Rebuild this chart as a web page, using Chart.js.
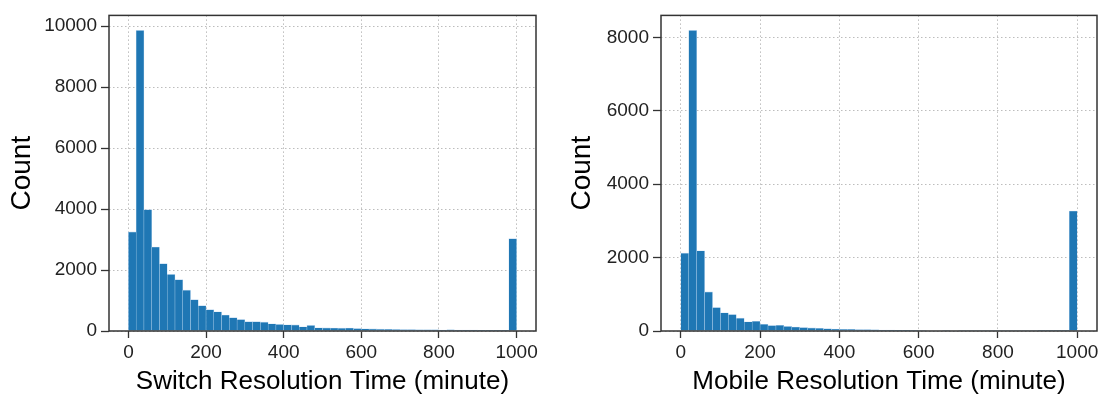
<!DOCTYPE html>
<html>
<head>
<meta charset="utf-8">
<script src="https://cdn.jsdelivr.net/npm/chart.js@4.4.0/dist/chart.umd.min.js"></script>
<style>
body { margin: 0; background: #fff; width: 1102px; height: 398px; overflow: hidden; position: relative; }
.box { position: absolute; top: 0; height: 398px; }
</style>
</head>
<body>
<div class="box" style="left:0;width:548px"><canvas id="switchChart"></canvas></div>
<div class="box" style="left:548px;width:554px"><canvas id="mobileChart"></canvas></div>
<script>
// histogram bins are 20 minutes wide, 0..1000
const binCenters = [
  10, 30, 50, 70, 90, 110, 130, 150, 170, 190,
  210, 230, 250, 270, 290, 310, 330, 350, 370, 390,
  410, 430, 450, 470, 490, 510, 530, 550, 570, 590,
  610, 630, 650, 670, 690, 710, 730, 750, 770, 790,
  810, 830, 850, 870, 890, 910, 930, 950, 970, 990
];

const switchCounts = [
  3250, 9860, 3980, 2755, 2210, 1858, 1683, 1340, 1028, 830,
  700, 628, 525, 438, 375, 305, 305, 290, 235, 215,
  205, 200, 140, 185, 105, 100, 95, 92, 98, 82,
  75, 70, 62, 58, 52, 50, 46, 42, 40, 36,
  34, 36, 30, 28, 27, 25, 24, 22, 20, 3030
];

const mobileCounts = [
  2120, 8190, 2185, 1065, 640, 495, 450, 350, 250, 265,
  185, 150, 155, 125, 110, 95, 85, 75, 65, 55,
  48, 44, 40, 36, 30, 28, 24, 20, 18, 16,
  14, 13, 12, 10, 11, 9, 8, 7, 6, 6,
  5, 5, 4, 4, 4, 3, 3, 3, 3, 3270
];

const xTicks = [0, 200, 400, 600, 800, 1000];
const switchYTicks = [0, 2000, 4000, 6000, 8000, 10000];
const mobileYTicks = [0, 2000, 4000, 6000, 8000];

Chart.defaults.font.family = "'Liberation Sans', Arial, sans-serif";

// matplotlib style box round the plot area
const framePlugin = {
  id: 'frame',
  afterDraw(chart) {
    const { ctx, chartArea: a } = chart;
    ctx.save();
    ctx.strokeStyle = '#333';
    ctx.lineWidth = 1.5;
    ctx.strokeRect(a.left, a.top, a.right - a.left, a.bottom - a.top);
    ctx.restore();
  }
};

const gridStyle = (len) => ({
  offset: false,
  color: '#bdbdbd',
  lineWidth: 1,
  tickColor: '#333',
  tickLength: len,
  tickWidth: 1.3,
  tickBorderDash: []
});

const makeChart = (id, cfg) => {
  return new Chart(document.getElementById(id), {
    type: 'bar',
    data: {
      datasets: [{
        data: cfg.counts.map((v, i) => ({ x: binCenters[i], y: v })),
        backgroundColor: '#1f77b4',
        borderColor: 'rgba(170,205,235,0.8)',
        borderWidth: { top: 0.6, left: 0.5, right: 0.5, bottom: 0 },
        barPercentage: 1,
        categoryPercentage: 1
      }]
    },
    plugins: [framePlugin],
    options: {
      responsive: true,
      maintainAspectRatio: false,
      animation: false,
      layout: { padding: cfg.padding },
      plugins: { legend: { display: false }, tooltip: { enabled: false } },
      scales: {
        x: {
          type: 'linear',
          offset: false,
          min: -50,
          max: 1050,
          afterBuildTicks: s => { s.ticks = xTicks.map(v => ({ value: v })); },
          afterFit: s => { s.height = 67; },
          ticks: { font: { size: 19 }, color: '#222', padding: 3, maxRotation: 0, autoSkip: false, callback: v => String(v) },
          grid: gridStyle(7),
          border: { display: false, dash: [1.5, 2.5] },
          title: { display: true, text: cfg.xTitle, font: { size: 26 }, color: '#000', padding: { top: 0, bottom: 1 } }
        },
        y: {
          min: 0,
          max: cfg.yMax,
          afterBuildTicks: s => { s.ticks = cfg.yTicks.map(v => ({ value: v })); },
          afterFit: s => { s.width = cfg.yWidth; },
          ticks: { font: { size: 19 }, color: '#222', padding: 4, callback: v => String(v) },
          grid: gridStyle(8),
          border: { display: false, dash: [1.5, 2.5] },
          title: { display: true, text: 'Count', font: { size: 28 }, color: '#000', padding: { top: cfg.yTitlePad, bottom: 0 } }
        }
      }
    }
  });
};

makeChart('switchChart', {
  counts: switchCounts,
  yTicks: switchYTicks,
  yMax: 10352,
  yWidth: 109,
  yTitlePad: 5,
  padding: { top: 13, right: 12, left: 0, bottom: 0 },
  xTitle: 'Switch Resolution Time (minute)'
});

makeChart('mobileChart', {
  counts: mobileCounts,
  yTicks: mobileYTicks,
  yMax: 8600,
  yWidth: 113,
  yTitlePad: 17,
  padding: { top: 4, right: 5, left: 0, bottom: 0 },
  xTitle: 'Mobile Resolution Time (minute)'
});
</script>
</body>
</html>
